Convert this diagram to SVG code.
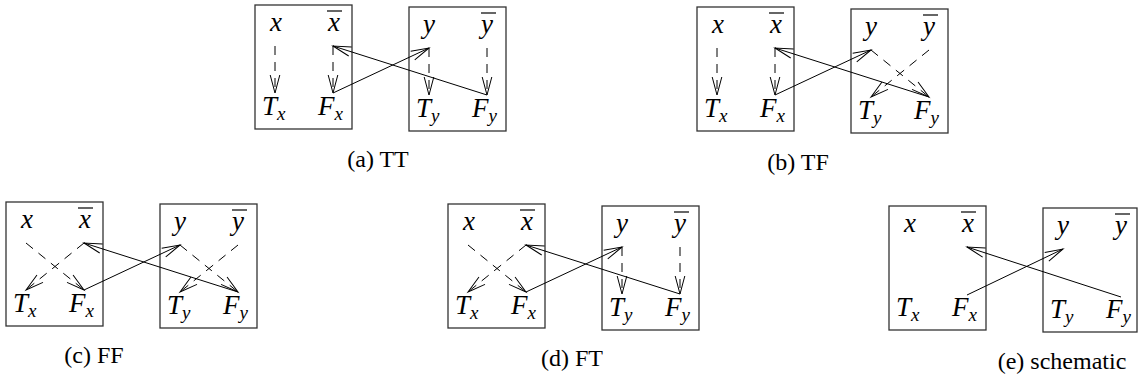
<svg xmlns="http://www.w3.org/2000/svg" width="1139" height="385" viewBox="0 0 1139 385" font-family="'Liberation Serif', 'Times New Roman', Times, serif">
<style>
.box{fill:none;stroke:#333;stroke-width:1.3}
.lb{font-family:'Liberation Serif','Times New Roman',Times,serif;font-style:italic;font-size:27px;fill:#000}
.lbm{font-family:'Liberation Serif','Times New Roman',Times,serif;font-style:italic;font-size:27px;fill:#000;text-anchor:middle}
.sub{font-size:19px}
.bar{stroke:#000;stroke-width:1.2}
.cap{font-family:'Liberation Serif','Times New Roman',Times,serif;font-size:24px;fill:#000;text-anchor:middle}
.d{fill:none;stroke:#000;stroke-width:1;stroke-dasharray:9 7;marker-end:url(#ah)}
.s{fill:none;stroke:#000;stroke-width:1;marker-end:url(#ah)}
</style>
<defs>
<marker id="ah" markerUnits="userSpaceOnUse" markerWidth="22" markerHeight="14" viewBox="-20 -7 22 14" refX="0" refY="0" orient="auto" overflow="visible">
<path d="M-18,-4.8 L0,0 L-18,4.8" fill="none" stroke="#000" stroke-width="1"/>
</marker>
</defs>

<!-- Panel (a) TT -->
<g id="panel-a">
<rect id="a-boxX" class="box" x="255" y="5" width="97" height="124"/>
<rect id="a-boxY" class="box" x="409" y="7" width="97" height="124"/>
<g id="a-x"><text class="lbm" x="276" y="31">x</text></g>
<g id="a-xbar"><text class="lbm" x="334" y="31">x</text><line class="bar" x1="327" y1="11" x2="342" y2="11"/></g>
<g id="a-Tx"><text class="lb" x="262" y="115">T<tspan class="sub" dy="5">x</tspan></text></g>
<g id="a-Fx"><text class="lb" x="318" y="115">F<tspan class="sub" dy="5">x</tspan></text></g>
<g id="a-y"><text class="lbm" x="429" y="33">y</text></g>
<g id="a-ybar"><text class="lbm" x="487" y="33">y</text><line class="bar" x1="481" y1="13" x2="496" y2="13"/></g>
<g id="a-Ty"><text class="lb" x="416" y="117">T<tspan class="sub" dy="5">y</tspan></text></g>
<g id="a-Fy"><text class="lb" x="472" y="117">F<tspan class="sub" dy="5">y</tspan></text></g>
<g id="a-edges">
<line class="d" x1="275" y1="46" x2="275" y2="93"/>
<line class="d" x1="333" y1="46" x2="333" y2="93"/>
<line class="d" x1="429" y1="48" x2="429" y2="95"/>
<line class="d" x1="487" y1="48" x2="487" y2="95"/>
<line class="s" x1="333" y1="93" x2="429" y2="48"/>
<line class="s" x1="487" y1="95" x2="333" y2="46"/>
</g>
<text class="cap" x="378" y="167">(a) TT</text>
</g>

<!-- Panel (b) TF -->
<g id="panel-b">
<rect id="b-boxX" class="box" x="697" y="7" width="97" height="124"/>
<rect id="b-boxY" class="box" x="851" y="9" width="97" height="124"/>
<g id="b-x"><text class="lbm" x="718" y="33">x</text></g>
<g id="b-xbar"><text class="lbm" x="776" y="33">x</text><line class="bar" x1="769" y1="13" x2="784" y2="13"/></g>
<g id="b-Tx"><text class="lb" x="704" y="117">T<tspan class="sub" dy="5">x</tspan></text></g>
<g id="b-Fx"><text class="lb" x="760" y="117">F<tspan class="sub" dy="5">x</tspan></text></g>
<g id="b-y"><text class="lbm" x="871" y="35">y</text></g>
<g id="b-ybar"><text class="lbm" x="929" y="35">y</text><line class="bar" x1="923" y1="15" x2="938" y2="15"/></g>
<g id="b-Ty"><text class="lb" x="858" y="119">T<tspan class="sub" dy="5">y</tspan></text></g>
<g id="b-Fy"><text class="lb" x="914" y="119">F<tspan class="sub" dy="5">y</tspan></text></g>
<g id="b-edges">
<line class="d" x1="717" y1="48" x2="717" y2="95"/>
<line class="d" x1="775" y1="48" x2="775" y2="95"/>
<line class="d" x1="871" y1="50" x2="929" y2="97"/>
<line class="d" x1="929" y1="50" x2="871" y2="97"/>
<line class="s" x1="775" y1="95" x2="871" y2="50"/>
<line class="s" x1="929" y1="97" x2="775" y2="48"/>
</g>
<text class="cap" x="798" y="170">(b) TF</text>
</g>

<!-- Panel (c) FF -->
<g id="panel-c">
<rect id="c-boxX" class="box" x="6" y="202" width="97" height="124"/>
<rect id="c-boxY" class="box" x="160" y="204" width="97" height="124"/>
<g id="c-x"><text class="lbm" x="27" y="228">x</text></g>
<g id="c-xbar"><text class="lbm" x="85" y="228">x</text><line class="bar" x1="78" y1="208" x2="93" y2="208"/></g>
<g id="c-Tx"><text class="lb" x="13" y="312">T<tspan class="sub" dy="5">x</tspan></text></g>
<g id="c-Fx"><text class="lb" x="69" y="312">F<tspan class="sub" dy="5">x</tspan></text></g>
<g id="c-y"><text class="lbm" x="180" y="230">y</text></g>
<g id="c-ybar"><text class="lbm" x="238" y="230">y</text><line class="bar" x1="232" y1="210" x2="247" y2="210"/></g>
<g id="c-Ty"><text class="lb" x="167" y="314">T<tspan class="sub" dy="5">y</tspan></text></g>
<g id="c-Fy"><text class="lb" x="223" y="314">F<tspan class="sub" dy="5">y</tspan></text></g>
<g id="c-edges">
<line class="d" x1="26" y1="243" x2="84" y2="290"/>
<line class="d" x1="84" y1="243" x2="26" y2="290"/>
<line class="d" x1="180" y1="245" x2="238" y2="292"/>
<line class="d" x1="238" y1="245" x2="180" y2="292"/>
<line class="s" x1="84" y1="290" x2="180" y2="245"/>
<line class="s" x1="238" y1="292" x2="84" y2="243"/>
</g>
<text class="cap" x="94" y="363">(c) FF</text>
</g>

<!-- Panel (d) FT -->
<g id="panel-d">
<rect id="d-boxX" class="box" x="448" y="204" width="97" height="124"/>
<rect id="d-boxY" class="box" x="602" y="206" width="97" height="124"/>
<g id="d-x"><text class="lbm" x="469" y="230">x</text></g>
<g id="d-xbar"><text class="lbm" x="527" y="230">x</text><line class="bar" x1="520" y1="210" x2="535" y2="210"/></g>
<g id="d-Tx"><text class="lb" x="455" y="314">T<tspan class="sub" dy="5">x</tspan></text></g>
<g id="d-Fx"><text class="lb" x="511" y="314">F<tspan class="sub" dy="5">x</tspan></text></g>
<g id="d-y"><text class="lbm" x="622" y="232">y</text></g>
<g id="d-ybar"><text class="lbm" x="680" y="232">y</text><line class="bar" x1="674" y1="212" x2="689" y2="212"/></g>
<g id="d-Ty"><text class="lb" x="609" y="316">T<tspan class="sub" dy="5">y</tspan></text></g>
<g id="d-Fy"><text class="lb" x="665" y="316">F<tspan class="sub" dy="5">y</tspan></text></g>
<g id="d-edges">
<line class="d" x1="468" y1="245" x2="526" y2="292"/>
<line class="d" x1="526" y1="245" x2="468" y2="292"/>
<line class="d" x1="622" y1="247" x2="622" y2="294"/>
<line class="d" x1="680" y1="247" x2="680" y2="294"/>
<line class="s" x1="526" y1="292" x2="622" y2="247"/>
<line class="s" x1="680" y1="294" x2="526" y2="245"/>
</g>
<text class="cap" x="572" y="366">(d) FT</text>
</g>

<!-- Panel (e) schematic -->
<g id="panel-e">
<rect id="e-boxX" class="box" x="889" y="206" width="97" height="124"/>
<rect id="e-boxY" class="box" x="1043" y="208" width="94" height="124"/>
<g id="e-x"><text class="lbm" x="910" y="232">x</text></g>
<g id="e-xbar"><text class="lbm" x="968" y="232">x</text><line class="bar" x1="961" y1="212" x2="976" y2="212"/></g>
<g id="e-Tx"><text class="lb" x="896" y="316">T<tspan class="sub" dy="5">x</tspan></text></g>
<g id="e-Fx"><text class="lb" x="952" y="316">F<tspan class="sub" dy="5">x</tspan></text></g>
<g id="e-y"><text class="lbm" x="1063" y="234">y</text></g>
<g id="e-ybar"><text class="lbm" x="1121" y="234">y</text><line class="bar" x1="1115" y1="214" x2="1130" y2="214"/></g>
<g id="e-Ty"><text class="lb" x="1050" y="318">T<tspan class="sub" dy="5">y</tspan></text></g>
<g id="e-Fy"><text class="lb" x="1106" y="318">F<tspan class="sub" dy="5">y</tspan></text></g>
<g id="e-edges">
<line class="s" x1="967" y1="295" x2="1063" y2="249"/>
<line class="s" x1="1121" y1="297" x2="967" y2="247"/>
</g>
<text class="cap" x="1062" y="369">(e) schematic</text>
</g>
</svg>
